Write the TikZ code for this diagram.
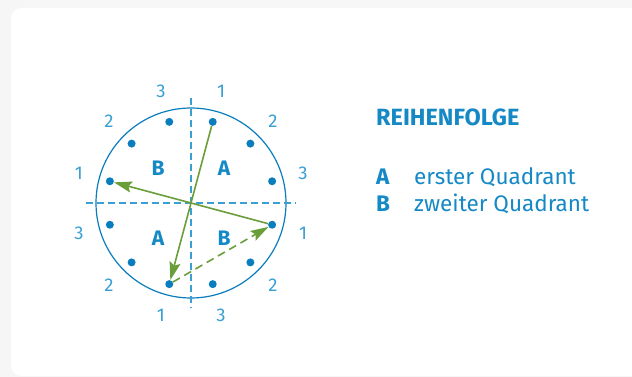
\documentclass[tikz,border=0pt]{standalone}
\usepackage{fontspec}
\setmainfont{Fira Sans}
\usetikzlibrary{arrows.meta}
\definecolor{bg}{HTML}{F6F6F6}
\definecolor{dblue}{HTML}{0A7DBE}
\definecolor{lblue}{HTML}{3AA0D4}
\definecolor{tblue}{HTML}{1589C6}
\definecolor{agreen}{HTML}{6A9E3A}
\tikzset{
  dotnode/.style={circle,fill=dblue,inner sep=0pt,minimum size=8pt},
  numlabel/.style={text=lblue,font=\fontsize{18.5}{18.5}\selectfont,inner sep=0pt},
  quad/.style={text=tblue,font=\fontsize{21}{21}\selectfont\bfseries,inner sep=0pt},
  axis/.style={lblue,line width=1.2pt,dash pattern=on 7pt off 4pt},
  garrow/.style={agreen,line width=1.6pt,-{Stealth[length=18pt,width=11pt,inset=3pt]}},
  legend/.style={text=tblue,anchor=base west,inner sep=0pt,font=\fontsize{22.5}{22.5}\selectfont}
}
\begin{document}
\begin{tikzpicture}[x=1pt,y=1pt]
\useasboundingbox (0,0) rectangle (632,377);
\fill[bg] (0,0) rectangle (632,377);
\fill[white,rounded corners=10pt] (11,1) rectangle (670,369);
\begin{scope}[shift={(191,174)}]
  \draw[dblue,line width=1.2pt] (0,0) circle (95);
  \draw[axis] (0,105) -- (0,-105);
  \draw[axis] (-105,0) -- (105,0);
  \foreach \a in {15,45,...,345} {
    \node[dotnode] (d\a) at (\a:84) {};
  }
  \foreach \a/\t in {75/1,45/2,15/3,-15/1,-45/2,-75/3,255/1,225/2,195/3,165/1,135/2,105/3} {
    \node[numlabel] (n\a) at (\a:116) {\t};
  }
  \node[quad] (qB1) at (-33,35) {B};
  \node[quad] (qA1) at (33,35) {A};
  \node[quad] (qA2) at (-33,-35) {A};
  \node[quad] (qB2) at (33,-35) {B};
  \draw[garrow] (d75) -- (d255);
  \draw[garrow] (d345) -- (d165);
  \draw[garrow,dash pattern=on 8pt off 5pt] (d255) -- (d345);
\end{scope}
\node[legend,font=\fontsize{23.5}{23.5}\selectfont\bfseries] (title) at (376,251) {REIHENFOLGE};
\node[legend,font=\fontsize{22.5}{22.5}\selectfont\bfseries] (la) at (376,192) {A};
\node[legend] (ta) at (414,192) {erster Quadrant};
\node[legend,font=\fontsize{22.5}{22.5}\selectfont\bfseries] (lb) at (376,165) {B};
\node[legend] (tb) at (414,165) {zweiter Quadrant};
\end{tikzpicture}
\end{document}
